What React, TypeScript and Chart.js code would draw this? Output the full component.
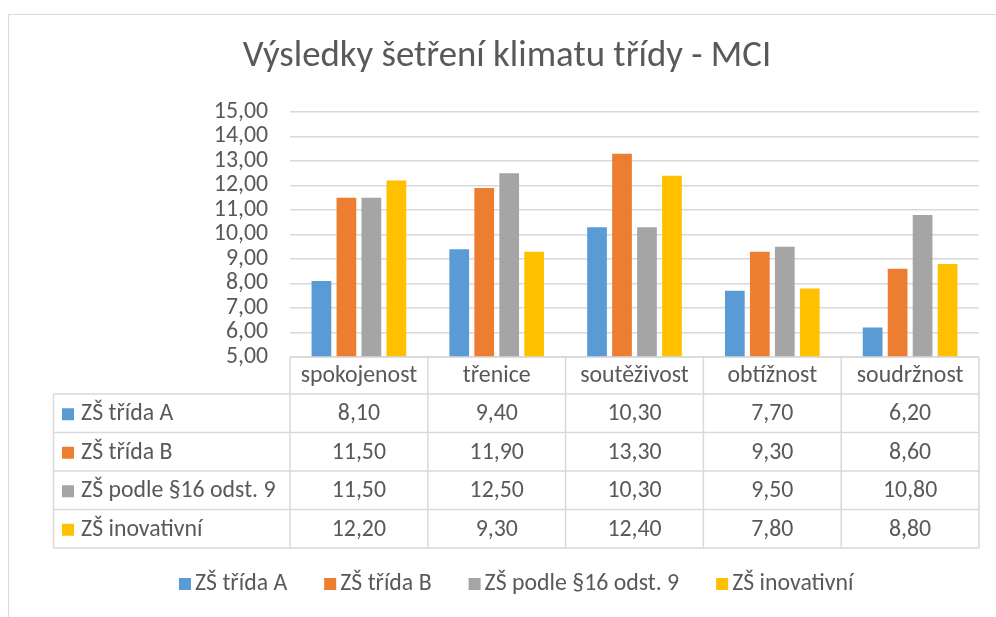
import { useEffect, useRef } from "react";
import { Chart, registerables } from "chart.js";

Chart.register(...registerables);

const chartTitle = "Výsledky šetření klimatu třídy - MCI";
const categories = ["spokojenost", "třenice", "soutěživost", "obtížnost", "soudržnost"];
const seriesNames = ["ZŠ třída A", "ZŠ třída B", "ZŠ podle §16 odst. 9", "ZŠ inovativní"];
const tridaA = [8.1, 9.4, 10.3, 7.7, 6.2];
const tridaB = [11.5, 11.9, 13.3, 9.3, 8.6];
const podle16 = [11.5, 12.5, 10.3, 9.5, 10.8];
const inovativni = [12.2, 9.3, 12.4, 7.8, 8.8];
const seriesColors = ["#5B9BD5", "#ED7D31", "#A5A5A5", "#FFC000"];
const yMin = 5;
const yMax = 15;
const yStep = 1;

const FONT = "Carlito, Calibri, Lato, sans-serif";
const TEXT = "#595959";
const LINE = "#D9D9D9";
const BODY_SIZE = 23.8;
const TITLE_SIZE = 36.8;

const fmt = (v: number) => v.toFixed(2).replace(".", ",");

const decorPlugin = {
  id: "decor",
  afterDraw(chart: any) {
    const ctx = chart.ctx as CanvasRenderingContext2D;
    const area = chart.chartArea;
    const xs = chart.scales.x;
    const datasets = chart.data.datasets;
    ctx.save();

    // outer frame
    ctx.strokeStyle = LINE;
    ctx.lineWidth = 1;
    ctx.strokeRect(8.5, 14.5, 1200, 1200);

    // title
    ctx.fillStyle = TEXT;
    ctx.font = `${TITLE_SIZE}px ${FONT}`;
    ctx.textAlign = "center";
    ctx.textBaseline = "middle";
    ctx.fillText(chartTitle, 507, 57);

    // data table
    const n = categories.length;
    const half = (xs.getPixelForValue(1) - xs.getPixelForValue(0)) / 2;
    const top = area.bottom;
    const headerH = 37;
    const rowH = 38.5;
    const tableLeft = 53.5;
    const rows = datasets.length;
    const bottom = top + headerH + rowH * rows;

    ctx.strokeStyle = LINE;
    ctx.lineWidth = 1.5;
    ctx.beginPath();
    ctx.moveTo(area.left, top);
    ctx.lineTo(area.right, top);
    for (let r = 0; r <= rows; r++) {
      const y = top + headerH + rowH * r;
      ctx.moveTo(tableLeft, y);
      ctx.lineTo(area.right, y);
    }
    ctx.moveTo(tableLeft, top + headerH);
    ctx.lineTo(tableLeft, bottom);
    for (let i = 0; i < n; i++) {
      const x = xs.getPixelForValue(i) - half;
      ctx.moveTo(x, top);
      ctx.lineTo(x, bottom);
    }
    const xr = xs.getPixelForValue(n - 1) + half;
    ctx.moveTo(xr, top);
    ctx.lineTo(xr, bottom);
    ctx.stroke();

    ctx.font = `${BODY_SIZE}px ${FONT}`;
    ctx.fillStyle = TEXT;
    ctx.textAlign = "center";
    ctx.textBaseline = "middle";
    for (let i = 0; i < n; i++) {
      ctx.fillText(categories[i], xs.getPixelForValue(i), top + headerH / 2 + 1);
    }
    for (let r = 0; r < rows; r++) {
      const cy = top + headerH + rowH * r + rowH / 2 + 1;
      ctx.fillStyle = datasets[r].backgroundColor;
      ctx.fillRect(62, cy - 6, 12, 12);
      ctx.fillStyle = TEXT;
      ctx.textAlign = "left";
      ctx.fillText(datasets[r].label, 81, cy);
      ctx.textAlign = "center";
      for (let i = 0; i < n; i++) {
        ctx.fillText(fmt(datasets[r].data[i]), xs.getPixelForValue(i), cy);
      }
    }

    // legend
    const box = 12;
    const gapBoxText = 4;
    const gapItems = 37;
    const widths = datasets.map((d: any) => box + gapBoxText + ctx.measureText(d.label).width);
    const total = widths.reduce((a: number, b: number) => a + b, 0) + gapItems * (rows - 1);
    const center = (tableLeft + area.right) / 2;
    let x = center - total / 2;
    const ly = 584;
    ctx.textAlign = "left";
    for (let r = 0; r < rows; r++) {
      ctx.fillStyle = datasets[r].backgroundColor;
      ctx.fillRect(x, ly - 6, box, box);
      ctx.fillStyle = TEXT;
      ctx.fillText(datasets[r].label, x + box + gapBoxText, ly);
      x += widths[r] + gapItems;
    }
    ctx.restore();
  },
};

export default function App() {
  const ref = useRef<HTMLCanvasElement>(null);
  useEffect(() => {
    document.body.style.margin = "0";
    const seriesValues = [tridaA, tridaB, podle16, inovativni];
    const chart = new Chart(ref.current!, {
      type: "bar",
      data: {
        labels: categories,
        datasets: seriesNames.map((name, i) => ({
          label: name,
          data: seriesValues[i],
          backgroundColor: seriesColors[i],
          categoryPercentage: 0.725,
          barPercentage: 0.79,
        })),
      },
      options: {
        responsive: false,
        animation: false,
        layout: { padding: { top: 112, right: 17, bottom: 260, left: 0 } },
        plugins: {
          legend: { display: false },
          title: { display: false },
          tooltip: { enabled: false },
        },
        scales: {
          x: { display: false },
          y: {
            min: yMin,
            max: yMax,
            afterFit: (s: any) => {
              s.width = 290;
            },
            ticks: {
              stepSize: yStep,
              autoSkip: false,
              padding: 22,
              color: TEXT,
              font: { family: FONT, size: BODY_SIZE },
              callback: (v: any) => fmt(Number(v)),
            },
            grid: { color: LINE, lineWidth: 1.5, drawTicks: false },
            border: { display: false },
          },
        },
      },
      plugins: [decorPlugin],
    });
    return () => chart.destroy();
  }, []);
  return <canvas ref={ref} width={996} height={617} style={{ display: "block" }} />;
}
